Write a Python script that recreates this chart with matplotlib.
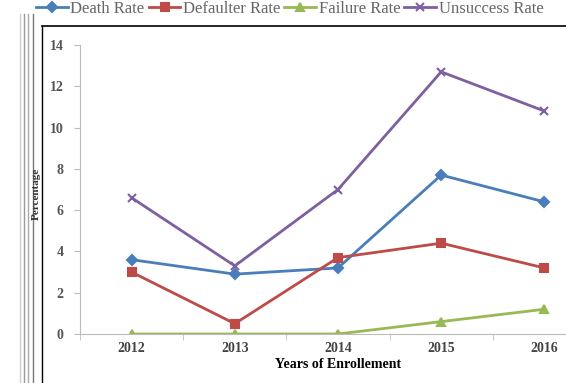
import matplotlib
matplotlib.use("Agg")
import matplotlib.pyplot as plt
from matplotlib.lines import Line2D

years = ["2012", "2013", "2014", "2015", "2016"]
death = [3.6, 2.9, 3.2, 7.7, 6.4]
defaulter = [3.0, 0.5, 3.7, 4.4, 3.2]
failure = [0.0, 0.0, 0.0, 0.6, 1.2]
unsuccess = [6.6, 3.3, 7.0, 12.7, 10.8]
yticks = [0, 2, 4, 6, 8, 10, 12, 14]

plt.rcParams['font.family'] = ['Liberation Serif', 'DejaVu Serif']

W, H = 566, 383
fig = plt.figure(figsize=(W / 100, H / 100), dpi=100)
ax = fig.add_axes([80 / W, 49 / H, (596 - 80) / W, (334 - 45) / H])

x = list(range(len(years)))
series = [
    ("Death Rate", death, "#4a7ebb", "D", 5),
    ("Defaulter Rate", defaulter, "#be4b48", "s", 6),
    ("Failure Rate", failure, "#98b954", "^", 6),
    ("Unsuccess Rate", unsuccess, "#7d60a0", "x", 6),
]
handles = []
for name, vals, col, mk, ms in series:
    h, = ax.plot(x, vals, color=col, lw=2, marker=mk, ms=ms, mew=1.5, label=name)
    handles.append(h)

ax.set_xlim(-0.5, 4.5)
ax.set_ylim(0, 14)
ax.set_yticks(yticks)
ax.set_yticklabels([str(v) for v in yticks], fontsize=10, color="#555555", fontweight="bold")
ax.set_xticks(x)
ax.set_xticklabels(years, fontsize=10, color="#444444", fontweight="bold")
ax.set_xticks([i - 0.5 for i in range(len(years) + 1)], minor=True)
ax.tick_params(axis="x", which="major", length=0, pad=6)
ax.tick_params(axis="x", which="minor", length=4, color="#bbbbbb")
ax.tick_params(axis="y", length=4, color="#bbbbbb", pad=8)
for s in ["top", "right"]:
    ax.spines[s].set_visible(False)
for s in ["left", "bottom"]:
    ax.spines[s].set_color("#bbbbbb")
ax.set_xlabel("Years of Enrollement", fontsize=10, fontweight="bold", labelpad=2)
fig.text(36 / W, (334 + 45) / 2 / H, "Percentage", rotation=90, fontsize=8,
         fontweight="bold", ha="center", va="center", color="#333333")

fig.legend(handles=handles, loc="upper left", bbox_to_anchor=(28 / W, 1.02),
           ncol=4, frameon=False, fontsize=12, handlelength=1.9,
           columnspacing=0.25, handletextpad=0.15, borderaxespad=0.1,
           labelcolor="#666666")

# frame lines from the screenshot
fig.add_artist(Line2D([42 / W, 42 / W], [0, 1 - 26 / H], color="black", lw=1))
fig.add_artist(Line2D([42 / W, 1], [1 - 26 / H, 1 - 26 / H], color="black", lw=1.2))
for xp, c in [(20, "#cccccc"), (24, "#999999"), (28, "#aaaaaa"), (33, "#777777")]:
    fig.add_artist(Line2D([xp / W, xp / W], [0, 1 - 14 / H], color=c, lw=1))

fig.savefig("out.png", dpi=100)
